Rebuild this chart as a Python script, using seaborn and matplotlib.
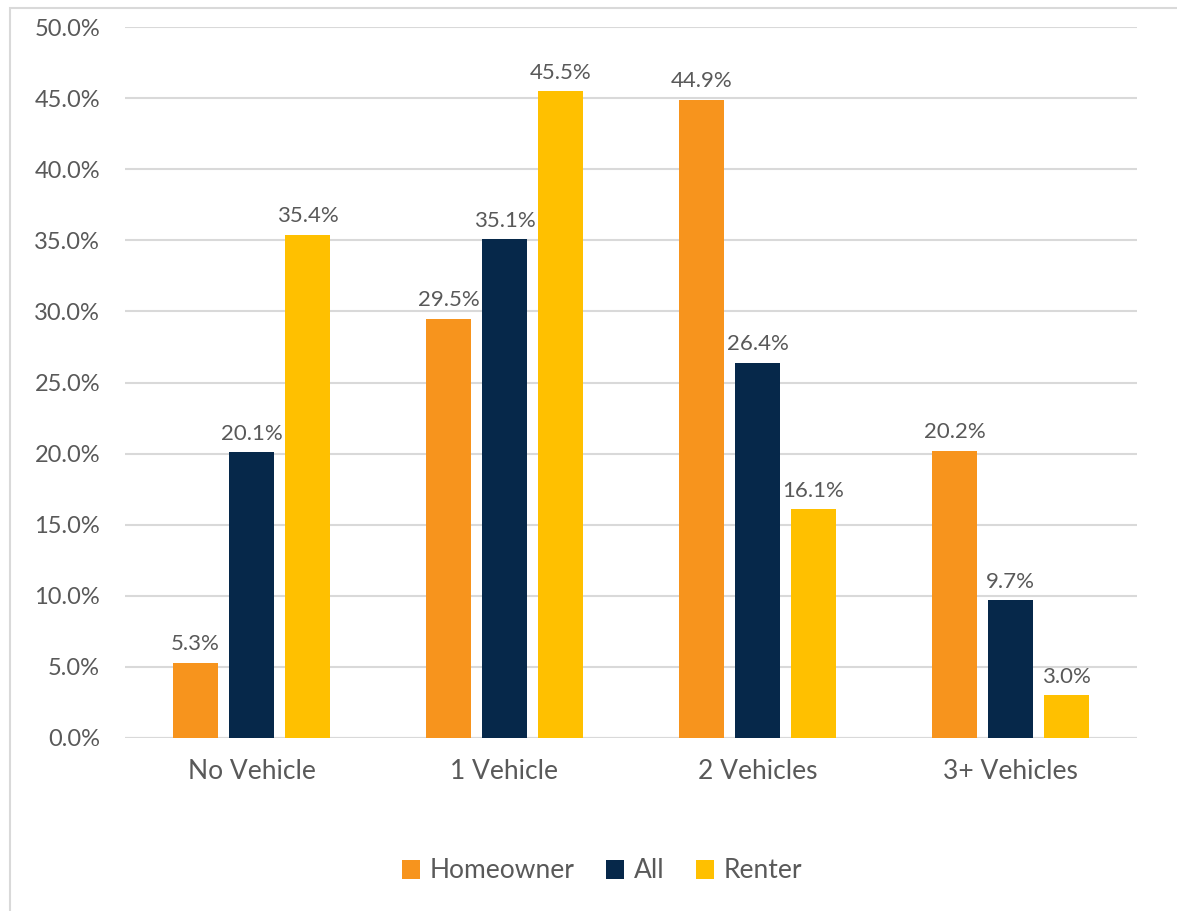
import matplotlib
matplotlib.use("Agg")
import matplotlib.pyplot as plt
import seaborn as sns
import pandas as pd
from matplotlib.patches import Rectangle

categories = ["No Vehicle", "1 Vehicle", "2 Vehicles", "3+ Vehicles"]
series = ["Homeowner", "All", "Renter"]
homeowner = [5.3, 29.5, 44.9, 20.2]
all_hh = [20.1, 35.1, 26.4, 9.7]
renter = [35.4, 45.5, 16.1, 3.0]
yticks = [0, 5, 10, 15, 20, 25, 30, 35, 40, 45, 50]

colors = ["#F7941D", "#06284A", "#FFC000"]
text_color = "#595959"
grid_color = "#D9D9D9"

rows = []
for name, vals in zip(series, [homeowner, all_hh, renter]):
    for c, v in zip(categories, vals):
        rows.append({"Category": c, "Series": name, "Value": v})
df = pd.DataFrame(rows)

sns.set_theme(style="white")
plt.rcParams["font.family"] = ["Lato", "DejaVu Sans"]

fig = plt.figure(figsize=(11.77, 9.11), dpi=100)
ax = fig.add_axes([125 / 1177, 1 - 738 / 911, 1012 / 1177, 711 / 911])

sns.barplot(data=df, x="Category", y="Value", hue="Series", order=categories,
            hue_order=series, palette=colors, width=0.664, gap=0.21,
            saturation=1, linewidth=0, errorbar=None, ax=ax)

for cont in ax.containers:
    ax.bar_label(cont, labels=[f"{v:.1f}%" for v in cont.datavalues],
                 padding=6, fontsize=16, color=text_color)

ax.set_ylim(0, 50)
ax.set_xlim(-0.5, 3.5)
ax.set_yticks(yticks)
ax.set_yticklabels([f"{v:.1f}%" for v in yticks])
ax.tick_params(axis="y", length=0, pad=18, labelsize=17, labelcolor=text_color)
ax.tick_params(axis="x", length=0, pad=15, labelsize=19, labelcolor=text_color)
ax.set_xlabel("")
ax.set_ylabel("")
ax.yaxis.grid(True, color=grid_color, linewidth=1.5)
ax.set_axisbelow(True)
for s in ax.spines.values():
    s.set_visible(False)
ax.axhline(0, color=grid_color, linewidth=1.5, zorder=0.5)

handles, labels = ax.get_legend_handles_labels()
ax.legend(handles, labels, loc="center", bbox_to_anchor=((602 - 125) / 1012, (738 - 871) / 711),
          ncol=3, frameon=False, fontsize=19, labelcolor=text_color,
          handlelength=0.7, handleheight=0.7, handletextpad=0.35, columnspacing=1.2)

fig.patches.append(Rectangle((10 / 1177, -0.1), 2, 1.1 - 8 / 911,
                             transform=fig.transFigure, fill=False,
                             edgecolor=grid_color, linewidth=1.5))

fig.savefig("out.png", dpi=100)
